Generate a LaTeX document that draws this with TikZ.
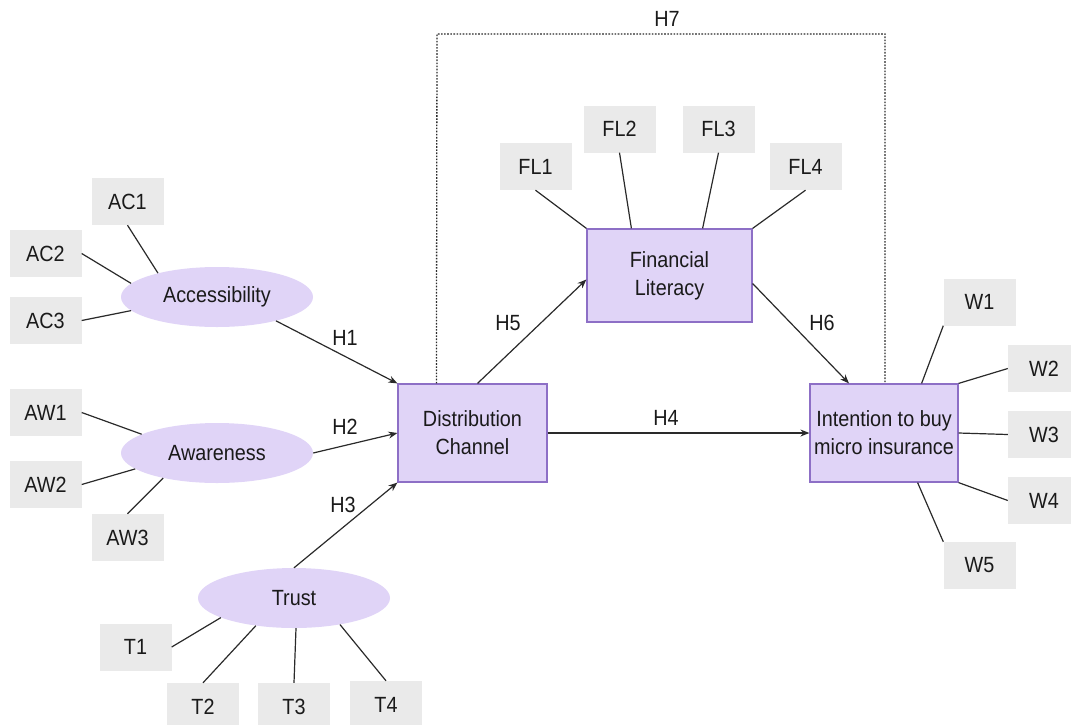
\documentclass[tikz,border=0pt]{standalone}
\usepackage{fontspec}
\setmainfont[FakeStretch=0.9]{Liberation Sans}
\usetikzlibrary{shapes.geometric,arrows.meta,calc}
\definecolor{lav}{HTML}{E0D4F7}
\definecolor{lavborder}{HTML}{8D6FC6}
\definecolor{indgrey}{HTML}{EAEAEA}
\definecolor{ink}{HTML}{1A1A1A}
\definecolor{linecol}{HTML}{2A2A2A}
\begin{document}
\begin{tikzpicture}[x=1pt,y=-1pt,
  every node/.style={font=\fontsize{22}{28}\selectfont, text=ink},
  ind/.style={fill=indgrey, minimum width=72pt, minimum height=47pt, inner sep=0pt},
  latent/.style={ellipse, fill=lav, minimum width=192pt, minimum height=60pt, inner sep=0pt},
  construct/.style={rectangle, fill=lav, draw=lavborder, line width=1.2pt, align=center, inner sep=0pt},
  load/.style={draw=linecol, line width=1.2pt},
  path/.style={draw=linecol, line width=1.2pt, -{Stealth[length=9pt,width=7pt]}},
  hyp/.style={inner sep=1pt},
  h7line/.style={draw=linecol, line width=1.3pt, dash pattern=on 1.6pt off 1.5pt}
]
\useasboundingbox (0,0) rectangle (1071,724);

% constructs
\node[construct, minimum width=149pt, minimum height=98pt] (DC) at (472.5,433) {Distribution\\Channel};
\node[construct, minimum width=165pt, minimum height=93pt] (FL) at (669.5,275.5) {Financial\\Literacy};
\node[construct, minimum width=148pt, minimum height=98pt] (IB) at (884,433) {Intention to buy\\micro insurance};

% latent ellipses
\node[latent] (acc) at (217,297) {Accessibility};
\node[latent] (awa) at (217,453) {Awareness};
\node[latent] (tru) at (294,598) {Trust};

% indicators
\node[ind] (AC1) at (127.5,201.5) {AC1};
\node[ind] (AC2) at (45.5,253.5) {AC2};
\node[ind] (AC3) at (45.5,320.5) {AC3};
\node[ind] (AW1) at (45.5,412.5) {AW1};
\node[ind] (AW2) at (45.5,484.5) {AW2};
\node[ind] (AW3) at (127.5,537.5) {AW3};
\node[ind] (T1) at (135.5,647) {T1};
\node[ind] (T2) at (203,706.5) {T2};
\node[ind] (T3) at (294,706.5) {T3};
\node[ind] (T4) at (386,704.5) {T4};
\node[ind] (FL1) at (535.5,166.5) {FL1};
\node[ind] (FL2) at (619.5,129) {FL2};
\node[ind] (FL3) at (718.5,129) {FL3};
\node[ind] (FL4) at (805.5,166.5) {FL4};
\node[ind] (W1) at (979.5,302) {W1};
\node[ind] (W2) at (1044,368.5) {W2};
\node[ind] (W3) at (1044,434.5) {W3};
\node[ind] (W4) at (1044,500.5) {W4};
\node[ind] (W5) at (979.5,565.5) {W5};

% loadings
\draw[load] (AC1.south) -- (acc.158);
\draw[load] (AC2.east) -- (acc.171);
\draw[load] (AC3.east) -- (acc.189);
\draw[load] (AW1.east) -- (awa.166);
\draw[load] (AW2.east) -- (awa.191);
\draw[load] (AW3.north) -- (awa.205);
\draw[load] (T1.east) -- (tru.195);
\draw[load] (T2.north) -- (tru.216);
\draw[load] (T3.north) -- ([xshift=2pt]tru.south);
\draw[load] (T4.north) -- (tru.330);
\draw[load] (FL1.south) -- (FL.north west);
\draw[load] (FL2.south) -- ([xshift=45pt]FL.north west);
\draw[load] (FL3.south) -- ([xshift=-50pt]FL.north east);
\draw[load] (FL4.south) -- (FL.north east);
\draw[load] (W1.south west) -- ([xshift=-37pt]IB.north east);
\draw[load] (IB.north east) -- (W2.west);
\draw[load] (IB.east) -- (W3.west);
\draw[load] (IB.south east) -- (W4.west);
\draw[load] ([xshift=-41pt]IB.south east) -- (W5.north west);

% structural paths
\draw[path] (acc.338) -- (DC.north west);
\draw[path] (awa.east) -- (DC.west);
\draw[path] (tru.north) -- (DC.south west);
\draw[path] (DC.east) -- (IB.west);
\draw[path] ([xshift=5pt]DC.north) -- ([yshift=-4pt]FL.west);
\draw[path] ([yshift=-8pt]FL.east) -- ([xshift=-35pt]IB.north);

% H7 dotted path
\coordinate (h7l) at (437,34);
\coordinate (h7r) at (885,34);
\draw[h7line] ([xshift=39pt]DC.north west) -- (h7l) -- (h7r) -- (h7r |- IB.north);

% hypothesis labels
\node[hyp] (H1) at (345,338) {H1};
\node[hyp] (H2) at (345,427) {H2};
\node[hyp] (H3) at (343,505) {H3};
\node[hyp] (H4) at (666,418) {H4};
\node[hyp] (H5) at (508,323) {H5};
\node[hyp] (H6) at (822,323) {H6};
\node[hyp] (H7) at (667,19) {H7};
\end{tikzpicture}
\end{document}
